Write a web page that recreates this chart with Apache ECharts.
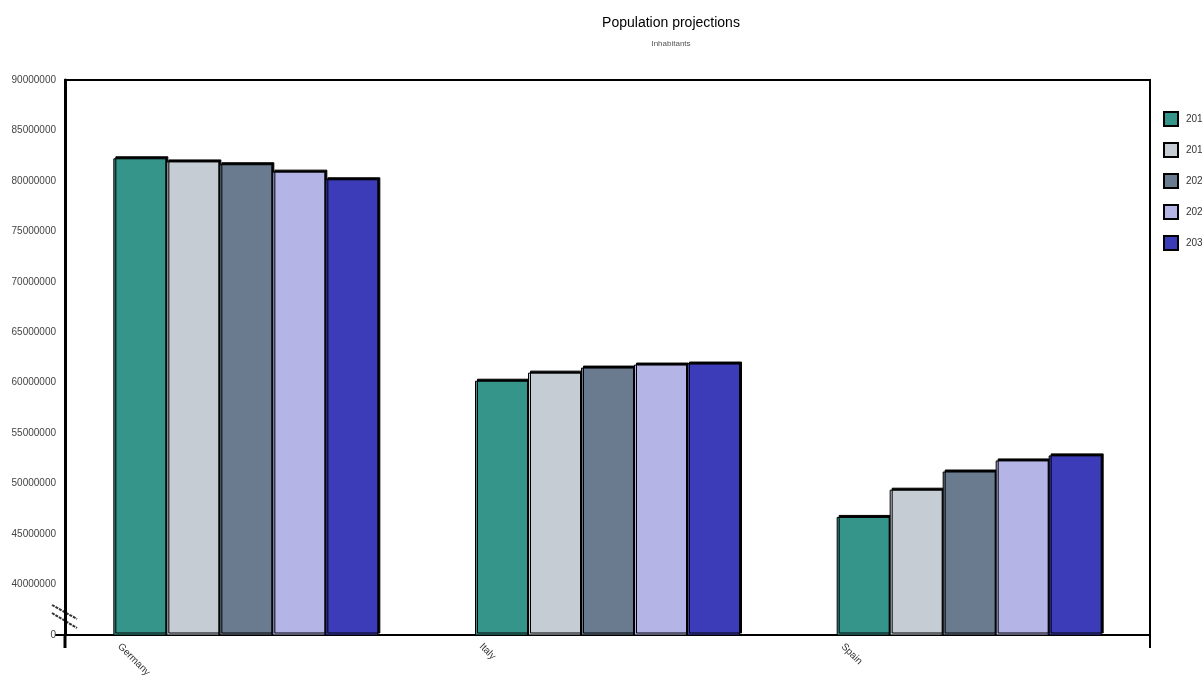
<!DOCTYPE html>
<html>
<head>
<meta charset="utf-8">
<title>Population projections</title>
<script src="https://cdn.jsdelivr.net/npm/echarts@6/dist/echarts.min.js"></script>
<style>
  html, body { margin: 0; padding: 0; background: #ffffff; }
  #chart { width: 1202px; height: 691px; }
</style>
</head>
<body>
<div id="chart"></div>
<script>
// Countries on the category axis
const countries = ['Germany', 'Italy', 'Spain'];
// Projection years (one bar series per year)
const years = ['2010', '2015', '2020', '2025', '2030'];
// Projected population per country, one array per year
const pop2010 = [82240000, 60200000, 46700000];
const pop2015 = [81930000, 61000000, 49400000];
const pop2020 = [81650000, 61500000, 51200000];
const pop2025 = [80920000, 61800000, 52300000];
const pop2030 = [80160000, 61900000, 52800000];
// Value axis range (the lower part is collapsed behind an axis break)
const axisMin = 35000000;
const axisMax = 90000000;
const axisStep = 5000000;

const seriesValues = [pop2010, pop2015, pop2020, pop2025, pop2030];
const seriesColors = ['#35958a', '#c5ccd4', '#6a7b90', '#b4b4e6', '#3c3cb9'];

// Fine-grained label axis so each country name sits at the left of its group
const SLOTS = 10;
const labelSlots = [];
countries.forEach(function (c) {
  for (let i = 0; i < SLOTS; i++) labelSlots.push(i === 1 ? c : '');
});

const FONT = 'Liberation Sans, Arial, sans-serif';
const chart = echarts.init(document.getElementById('chart'), null, { renderer: 'canvas' });

const option = {
  backgroundColor: '#ffffff',
  animation: false,
  title: {
    text: 'Population projections',
    subtext: 'Inhabitants',
    left: 666,
    top: 11,
    textAlign: 'center',
    itemGap: 10,
    textStyle: { fontFamily: FONT, fontSize: 14, fontWeight: 'normal', color: '#000' },
    subtextStyle: { fontFamily: FONT, fontSize: 8, color: '#555' }
  },
  legend: {
    orient: 'vertical',
    left: 1158,
    top: 106,
    itemWidth: 14,
    itemHeight: 14,
    itemGap: 15,
    icon: 'rect',
    data: years,
    textStyle: { fontFamily: FONT, fontSize: 10, color: '#333', padding: [0, 0, 0, 3] }
  },
  grid: {
    left: 65, right: 52, top: 80, bottom: 56,
    show: true,
    borderColor: '#000',
    borderWidth: 2,
    backgroundColor: 'transparent'
  },
  xAxis: [
    {
      type: 'category',
      data: countries,
      axisLine: { lineStyle: { color: '#000', width: 2 } },
      axisTick: { show: false },
      axisLabel: { show: false },
      splitLine: { show: false }
    },
    {
      type: 'category',
      data: labelSlots,
      position: 'bottom',
      axisLine: { show: false },
      axisTick: { show: false },
      splitLine: { show: false },
      axisLabel: {
        interval: 0,
        rotate: -45,
        margin: 10,
        fontFamily: FONT,
        fontSize: 10,
        color: '#333'
      }
    }
  ],
  yAxis: {
    type: 'value',
    min: axisMin,
    max: axisMax,
    interval: axisStep,
    axisLine: { show: true, lineStyle: { color: '#000', width: 3 } },
    axisTick: { show: false },
    splitLine: { show: false },
    axisLabel: {
      margin: 9,
      fontFamily: FONT,
      fontSize: 10,
      color: '#444',
      formatter: function (v) { return v === axisMin ? '0' : String(v); }
    }
  },
  series: years.map(function (y, i) {
    return {
      name: y,
      type: 'bar',
      xAxisIndex: 0,
      data: seriesValues[i],
      barWidth: 53,
      barGap: '0%',
      itemStyle: {
        color: seriesColors[i],
        borderColor: '#000',
        borderWidth: 1,
        shadowColor: '#000',
        shadowBlur: 0,
        shadowOffsetX: 2,
        shadowOffsetY: -2
      },
      emphasis: { disabled: true }
    };
  }),
  graphic: [
    // axis break marks on the value axis
    { type: 'line', shape: { x1: 52, y1: 605, x2: 77, y2: 619 },
      style: { stroke: '#333', lineWidth: 2, lineDash: [3, 1] } },
    { type: 'line', shape: { x1: 52, y1: 613, x2: 77, y2: 628 },
      style: { stroke: '#333', lineWidth: 2, lineDash: [3, 1] } },
    // zero tick and axis extensions below the plot
    { type: 'line', shape: { x1: 55, y1: 635, x2: 65, y2: 635 },
      style: { stroke: '#000', lineWidth: 2 } },
    { type: 'line', shape: { x1: 65, y1: 635, x2: 65, y2: 648 },
      style: { stroke: '#000', lineWidth: 3 } },
    { type: 'line', shape: { x1: 1150, y1: 635, x2: 1150, y2: 648 },
      style: { stroke: '#000', lineWidth: 2 } }
  ]
};

chart.setOption(option);
</script>
</body>
</html>
